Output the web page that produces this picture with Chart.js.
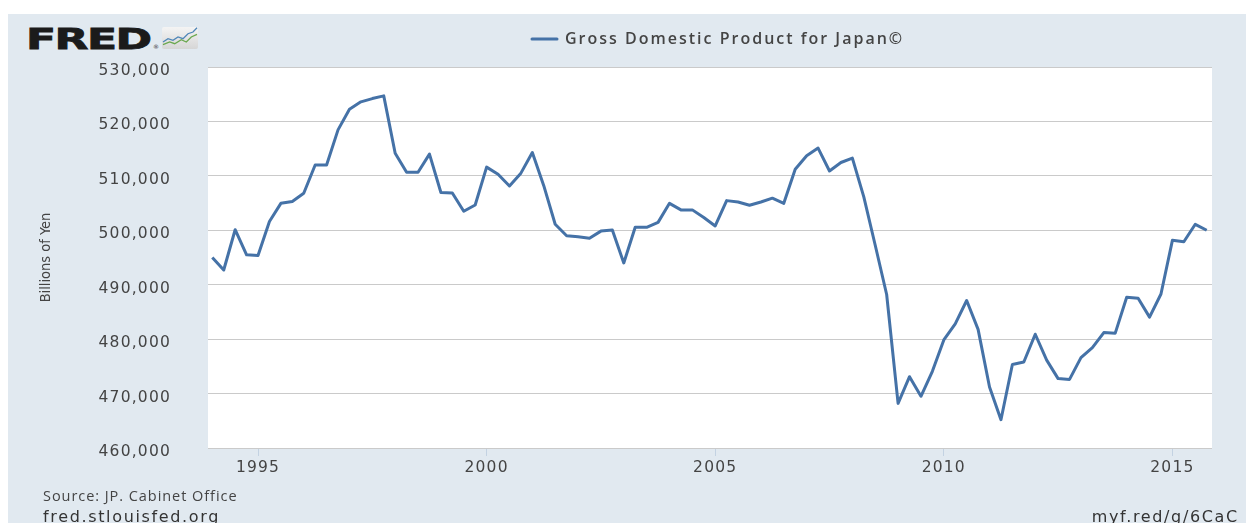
<!DOCTYPE html>
<html>
<head>
<meta charset="utf-8">
<script src="https://cdn.jsdelivr.net/npm/chart.js@4.4.1/dist/chart.umd.min.js"></script>
<style>
html,body{margin:0;padding:0;background:#fff;}
body{width:1246px;height:523px;overflow:hidden;position:relative;}
#frame{position:absolute;left:8px;top:14px;width:1238px;height:509px;background:#e1e9f0;overflow:hidden;}
#c{position:absolute;left:0;top:0;}
.logo{position:absolute;left:18px;top:10.6px;font:bold 29px/29px 'DejaVu Sans',sans-serif;color:#1b1b1b;transform:scaleX(1.52);transform-origin:0 0;white-space:nowrap;letter-spacing:-1px;-webkit-text-stroke:0.8px #1b1b1b;}
.reg{position:absolute;left:145px;top:30px;font:6px/6px 'DejaVu Sans',sans-serif;color:#333;}
.icon{position:absolute;left:154px;top:13px;}
.src{position:absolute;left:35px;top:475px;font:14.5px/14.5px 'Open Sans',sans-serif;color:#444;white-space:nowrap;letter-spacing:0.95px;}
.site{position:absolute;left:35px;top:495px;font:16px/16px 'DejaVu Sans',sans-serif;color:#333;letter-spacing:1.65px;white-space:nowrap;}
.short{position:absolute;left:1083.7px;top:495px;font:16px/16px 'DejaVu Sans',sans-serif;color:#333;letter-spacing:1.65px;white-space:nowrap;}
</style>
</head>
<body>
<div id="frame">
  <div class="logo">FRED</div>
  <div class="reg">®</div>
  <svg class="icon" width="36" height="22" viewBox="0 0 36 22">
    <defs>
      <linearGradient id="g" x1="0" y1="0" x2="0" y2="1">
        <stop offset="0" stop-color="#f4f4f4"/>
        <stop offset="1" stop-color="#d6d6d6"/>
      </linearGradient>
    </defs>
    <rect x="0" y="0" width="36" height="22" rx="2" fill="url(#g)"/>
    <polyline points="1,15 6,11.7 11,13.3 16,10 21,11.7 26,6.7 31,5 35,0.7" fill="none" stroke="#4f86b8" stroke-width="1.3"/>
    <polyline points="1,17.7 7.7,15 12.7,16.7 19.3,12.7 24.3,15 29.3,10 35,7.3" fill="none" stroke="#6aa84f" stroke-width="1.3"/>
  </svg>
  <canvas id="c" width="1238" height="509"></canvas>
  <div class="src">Source: JP. Cabinet Office</div>
  <div class="site">fred.stlouisfed.org</div>
  <div class="short">myf.red/g/6CaC</div>
</div>
<script>
// ---- data ----
const seriesLabel = 'Gross Domestic Product for Japan\u00A9';
const yAxisTitle = 'Billions of Yen';
const quarterDates = [
  '1994-01-01','1994-04-01','1994-07-01','1994-10-01',
  '1995-01-01','1995-04-01','1995-07-01','1995-10-01',
  '1996-01-01','1996-04-01','1996-07-01','1996-10-01',
  '1997-01-01','1997-04-01','1997-07-01','1997-10-01',
  '1998-01-01','1998-04-01','1998-07-01','1998-10-01',
  '1999-01-01','1999-04-01','1999-07-01','1999-10-01',
  '2000-01-01','2000-04-01','2000-07-01','2000-10-01',
  '2001-01-01','2001-04-01','2001-07-01','2001-10-01',
  '2002-01-01','2002-04-01','2002-07-01','2002-10-01',
  '2003-01-01','2003-04-01','2003-07-01','2003-10-01',
  '2004-01-01','2004-04-01','2004-07-01','2004-10-01',
  '2005-01-01','2005-04-01','2005-07-01','2005-10-01',
  '2006-01-01','2006-04-01','2006-07-01','2006-10-01',
  '2007-01-01','2007-04-01','2007-07-01','2007-10-01',
  '2008-01-01','2008-04-01','2008-07-01','2008-10-01',
  '2009-01-01','2009-04-01','2009-07-01','2009-10-01',
  '2010-01-01','2010-04-01','2010-07-01','2010-10-01',
  '2011-01-01','2011-04-01','2011-07-01','2011-10-01',
  '2012-01-01','2012-04-01','2012-07-01','2012-10-01',
  '2013-01-01','2013-04-01','2013-07-01','2013-10-01',
  '2014-01-01','2014-04-01','2014-07-01','2014-10-01',
  '2015-01-01','2015-04-01','2015-07-01','2015-10-01'
];
const gdpValues = [
  495000, 492700, 500100, 495500,
  495350, 501600, 504950, 505300,
  506800, 512000, 512000, 518450,
  522250, 523600, 524200, 524700,
  514150, 510650, 510650, 514000,
  506950, 506850, 503500, 504650,
  511600, 510300, 508150, 510500,
  514300, 508200, 501100, 499000,
  498800, 498550, 499850, 500050,
  494000, 500550, 500550, 501450,
  504950, 503750, 503750, 502350,
  500800, 505450, 505200, 504600,
  505200, 505900, 504950, 511200,
  513700, 515100, 510900, 512450,
  513250, 506150, 497250, 488200,
  468200, 473100, 469500, 474100,
  479850, 482800, 487100, 481800,
  471200, 465200, 475350, 475800,
  480900, 476150, 472750, 472600,
  476600, 478450, 481200, 481100,
  487700, 487500, 484050, 488300,
  498150, 497900, 501100, 500000
];
const yTickValues = [460000, 470000, 480000, 490000, 500000, 510000, 520000, 530000];
const xTickYears = [1995, 2000, 2005, 2010, 2015];
const xRange = [1993.906, 2015.866];
const yRange = [460000, 530000];

// ---- build ----
function toYear(d) {
  const parts = d.split('-').map(Number);
  return parts[0] + (parts[1] - 1) / 12;
}
const points = quarterDates.map((d, i) => ({ x: toYear(d), y: gdpValues[i] }));

const plotBg = {
  id: 'plotBg',
  beforeDraw(chart) {
    const a = chart.chartArea, ctx = chart.ctx;
    ctx.save();
    ctx.fillStyle = '#ffffff';
    ctx.fillRect(a.left, a.top, a.right - a.left, a.bottom - a.top);
    ctx.restore();
  }
};

function withSpacing(obj, method, spacing) {
  if (!obj || obj['_sp_' + method]) return;
  const orig = obj[method];
  obj['_sp_' + method] = true;
  obj[method] = function () {
    const ctx = this.ctx;
    const prev = ctx.letterSpacing;
    ctx.letterSpacing = spacing;
    try { return orig.apply(this, arguments); }
    finally { ctx.letterSpacing = prev || '0px'; }
  };
}

const textStyle = {
  id: 'textStyle',
  afterLayout(chart) {
    const lg = chart.legend;
    if (lg) {
      const itemW = (lg.lineWidths ? lg.lineWidths[0] : 0) - 10;
      const start = (lg.left + lg.right) / 2 - itemW / 2;
      const dx = 524 - start;
      lg.left += dx; lg.right += dx;
      lg.top -= 10; lg.bottom -= 10;
      withSpacing(lg, 'draw', '2px');
    }
    withSpacing(chart.scales.x, 'drawLabels', '1.2px');
    withSpacing(chart.scales.y, 'drawLabels', '1.2px');
  }
};

new Chart(document.getElementById('c'), {
  type: 'line',
  data: {
    datasets: [{
      label: seriesLabel,
      data: points,
      borderColor: '#4572a7',
      backgroundColor: '#4572a7',
      borderWidth: 3,
      borderJoinStyle: 'round',
      pointRadius: 0,
      tension: 0,
      fill: false
    }]
  },
  options: {
    responsive: false,
    animation: false,
    devicePixelRatio: 1,
    layout: { padding: { top: 17, left: 0, right: 34, bottom: 0 } },
    plugins: {
      legend: {
        display: true,
        position: 'top',
        fullSize: false,
        labels: {
          boxWidth: 25,
          boxHeight: 0,
          padding: 10,
          color: '#444444',
          font: { family: "'Open Sans', sans-serif", size: 16, weight: '600' }
        }
      },
      tooltip: { enabled: false }
    },
    scales: {
      x: {
        type: 'linear',
        min: xRange[0],
        max: xRange[1],
        afterBuildTicks(scale) { scale.ticks = xTickYears.map(v => ({ value: v })); },
        afterFit(scale) { scale.height = 75; },
        grid: { display: true, drawOnChartArea: false, drawTicks: true, tickLength: 8, color: '#c3d2e2', lineWidth: 1 },
        border: { display: false },
        ticks: {
          autoSkip: false, maxRotation: 0, padding: 2.5,
          color: '#444444',
          font: { family: "'DejaVu Sans', sans-serif", size: 15.5 },
          callback: v => String(v)
        }
      },
      y: {
        type: 'linear',
        min: yRange[0],
        max: yRange[1],
        afterBuildTicks(scale) { scale.ticks = yTickValues.map(v => ({ value: v })); },
        afterFit(scale) { scale.width = 200; },
        grid: { color: '#cacaca', lineWidth: 1, drawTicks: false },
        border: { display: false },
        title: {
          display: true,
          text: yAxisTitle,
          color: '#444444',
          padding: { top: 30, bottom: 0 },
          font: { family: "'DejaVu Sans Condensed', 'Roboto', sans-serif", size: 14.5 }
        },
        ticks: {
          padding: 37,
          labelOffset: 4,
          color: '#444444',
          font: { family: "'DejaVu Sans', sans-serif", size: 15.5 },
          callback: v => Number(v).toLocaleString('en-US')
        }
      }
    }
  },
  plugins: [plotBg, textStyle]
});
</script>
</body>
</html>
